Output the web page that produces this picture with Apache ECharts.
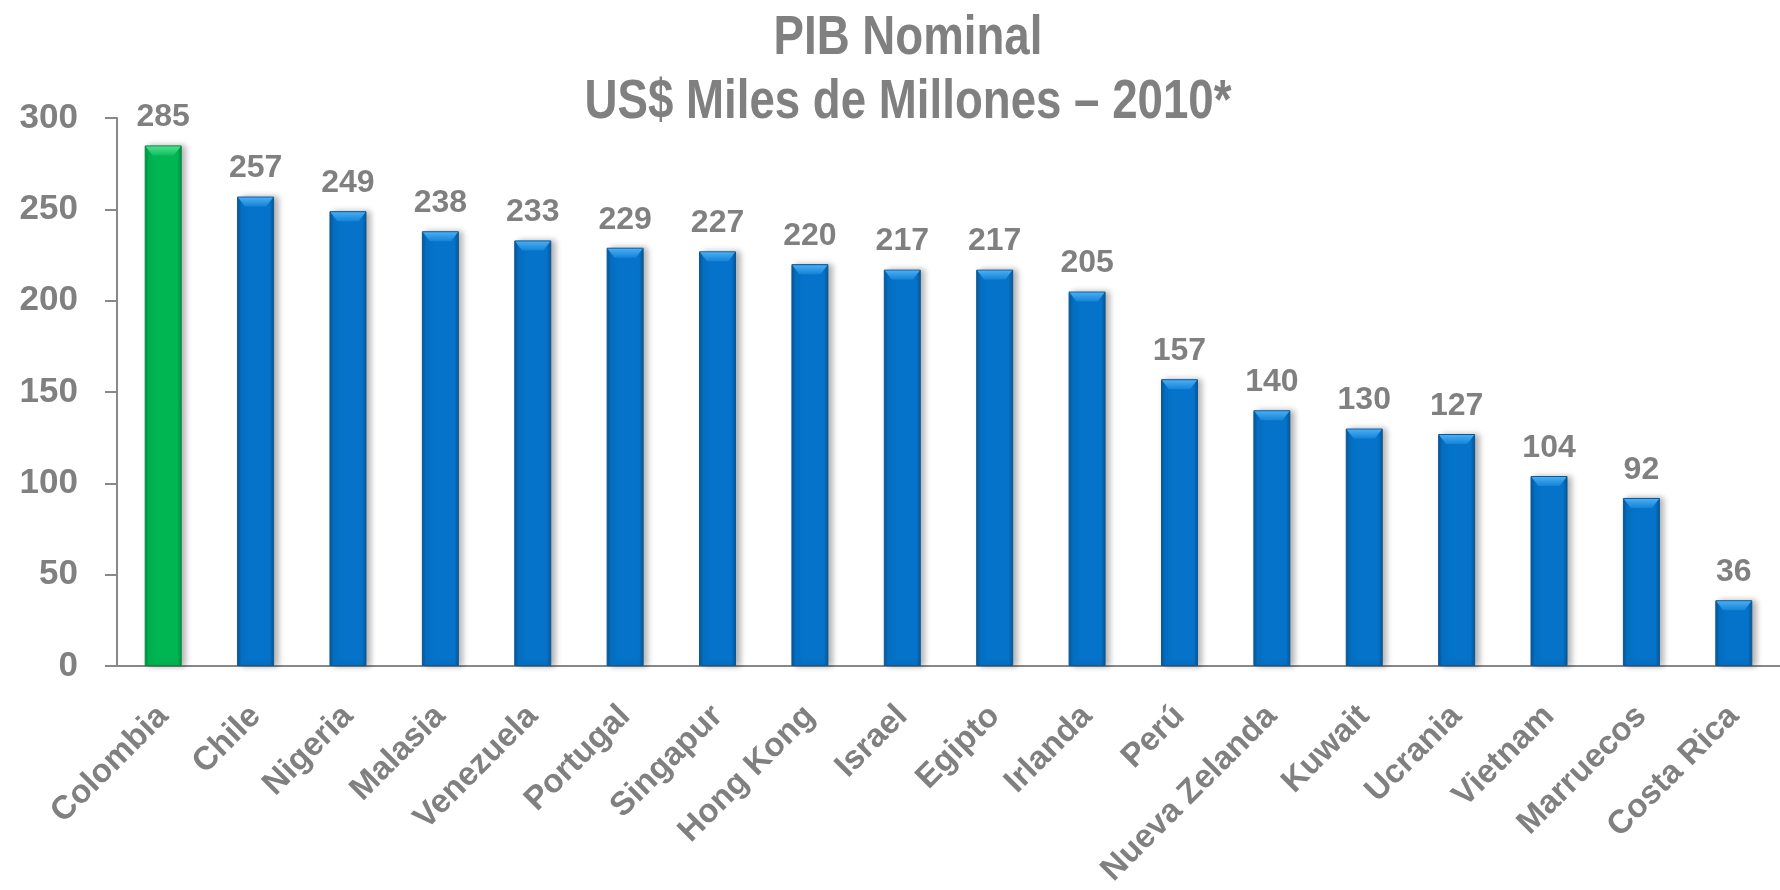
<!DOCTYPE html>
<html>
<head>
<meta charset="utf-8">
<script src="https://cdn.jsdelivr.net/npm/echarts@6/dist/echarts.min.js"></script>
<style>
  html, body { margin: 0; padding: 0; background: #fff; }
  #chart { width: 1780px; height: 890px; }
</style>
</head>
<body>
<div id="chart"></div>
<script>
// datos del grafico
var paises = ['Colombia', 'Chile', 'Nigeria', 'Malasia', 'Venezuela', 'Portugal', 'Singapur',
  'Hong Kong', 'Israel', 'Egipto', 'Irlanda', 'Perú', 'Nueva Zelanda', 'Kuwait', 'Ucrania',
  'Vietnam', 'Marruecos', 'Costa Rica'];
var pib = [285, 257, 249, 238, 233, 229, 227, 220, 217, 217, 205, 157, 140, 130, 127, 104, 92, 36];
var destacado = 'Colombia';   // barra verde
var titulo1 = 'PIB Nominal';
var titulo2 = 'US$ Miles de Millones – 2010*';

var gris = '#808080';
var fuente = '"Liberation Sans", Arial, sans-serif';

// relleno con bordes oscuros, parecido al bisel del original
function relleno(borde, centro) {
  return new echarts.graphic.LinearGradient(0, 0, 1, 0, [
    { offset: 0, color: borde },
    { offset: 0.12, color: centro },
    { offset: 0.88, color: centro },
    { offset: 1, color: borde }
  ]);
}
// brillo del bisel superior
function brillo(claro, base) {
  return new echarts.graphic.LinearGradient(0, 0, 0, 1, [
    { offset: 0, color: claro },
    { offset: 1, color: base }
  ]);
}

var datos = [];
var tapas = [];
for (var i = 0; i < paises.length; i++) {
  var verde = paises[i] === destacado;
  datos.push({
    value: pib[i],
    itemStyle: {
      color: verde ? relleno('#009040', '#00b652') : relleno('#0a5592', '#0573c9'),
      borderColor: verde ? '#07883e' : '#0b5796',
      borderWidth: 1
    }
  });
  tapas.push({
    value: pib[i],
    itemStyle: { color: verde ? brillo('#4fe08e', '#10bd5e') : brillo('#48aef4', '#1683d6') }
  });
}

// titulo en dos lineas, letra estrecha como el original
function lineaTitulo(texto, y) {
  return {
    type: 'text',
    x: 908,
    y: y,
    scaleX: 0.83,
    style: {
      text: texto,
      textAlign: 'center',
      textVerticalAlign: 'bottom',
      fill: gris,
      font: 'bold 55px ' + fuente
    }
  };
}

var chart = echarts.init(document.getElementById('chart'));
chart.setOption({
  animation: false,
  graphic: [
    lineaTitulo(titulo1, 66),
    lineaTitulo(titulo2, 130)
  ],
  grid: {
    left: 117,
    right: -12,
    top: 118,
    bottom: 224
  },
  xAxis: {
    type: 'category',
    data: paises,
    axisLine: { lineStyle: { color: '#888', width: 2 } },
    axisTick: { length: 12, lineStyle: { color: '#888', width: 2 } },
    axisLabel: {
      rotate: 45,
      margin: 45,
      interval: 0,
      color: gris,
      fontFamily: fuente,
      fontWeight: 'bold',
      fontSize: 33
    }
  },
  yAxis: {
    type: 'value',
    min: 0,
    max: 300,
    interval: 50,
    splitLine: { show: false },
    axisLine: { show: true, lineStyle: { color: '#888', width: 2 } },
    axisTick: { show: true, length: 12, lineStyle: { color: '#888', width: 2 } },
    axisLabel: {
      margin: 39,
      color: gris,
      fontFamily: fuente,
      fontWeight: 'bold',
      fontSize: 35
    }
  },
  series: [{
    type: 'bar',
    barWidth: 37,
    data: datos,
    z: 2,
    itemStyle: {
      shadowColor: 'rgba(0,0,0,0.3)',
      shadowBlur: 6,
      shadowOffsetX: 4,
      shadowOffsetY: 0
    },
    label: {
      show: true,
      position: 'top',
      distance: 12,
      color: gris,
      fontFamily: fuente,
      fontWeight: 'bold',
      fontSize: 32
    }
  }, {
    // bisel de la parte alta de cada barra
    type: 'pictorialBar',
    data: tapas,
    z: 3,
    silent: true,
    symbol: 'path://M0,0 L36,0 L29,9 L7,9 Z',
    symbolSize: [35, 9],
    symbolPosition: 'end',
    symbolOffset: [0, 1],
    label: { show: false }
  }]
});
</script>
</body>
</html>
